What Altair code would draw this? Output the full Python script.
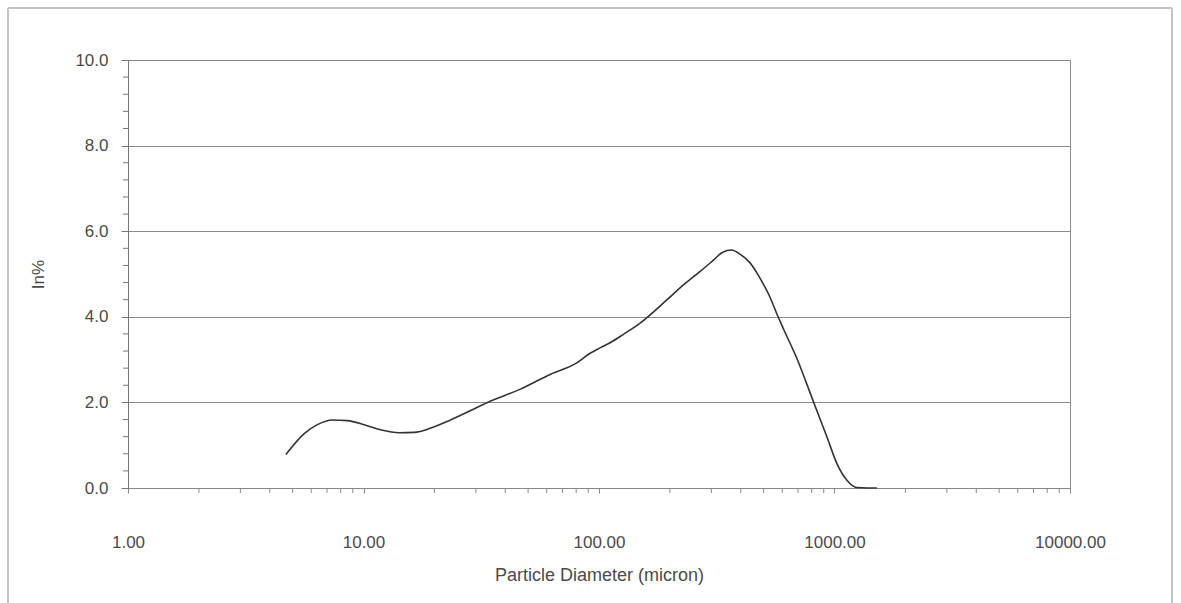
import altair as alt
import pandas as pd

# Particle size distribution (volume %, "In%") against particle diameter in microns
diameter_um = [4.68, 5.6, 6.37, 7.38, 8.55, 10.06, 11.8, 14.2, 16.4, 19.3, 23.4, 28.5,
               33.6, 46.4, 62.3, 80.8, 90.6, 101.5, 112, 127, 150, 194.6, 229, 269,
               307, 335, 365, 398, 438, 469, 500, 534, 570, 608, 693, 816, 929, 1024,
               1129, 1245, 1380, 1514]
in_pct = [0.78, 1.27, 1.48, 1.59, 1.575, 1.48, 1.36, 1.29, 1.30, 1.40, 1.59, 1.81,
          2.0, 2.31, 2.66, 2.93, 3.13, 3.28, 3.40, 3.59, 3.86, 4.40, 4.75, 5.06,
          5.33, 5.51, 5.56, 5.46, 5.26, 5.02, 4.75, 4.44, 4.06, 3.71, 3.02, 2.0, 1.19,
          0.57, 0.18, 0.01, 0.0, 0.0]

x_major = [1, 10, 100, 1000, 10000]
x_minor = [m * d for d in [1, 10, 100, 1000] for m in range(2, 10)]
y_major = [0, 2, 4, 6, 8, 10]
y_minor = [v / 10 for v in range(4, 100, 4) if v % 20 != 0]

W, H = 942, 428
TEXT = "#4a4a4a"
FONT = "Liberation Sans"

curve = pd.DataFrame({"d": diameter_um, "p": in_pct})

x_scale = alt.Scale(type="log", domain=[1, 10000], nice=False)
y_scale = alt.Scale(domain=[0, 10], nice=False, zero=True)

line = alt.Chart(curve).mark_line(
    color="#333333", strokeWidth=1.6, interpolate="monotone", clip=False
).encode(
    x=alt.X("d:Q", scale=x_scale, axis=alt.Axis(
        values=x_major, format=".2f", grid=False, title="Particle Diameter (micron)",
        tickSize=5, tickColor="#888", domainColor="#888", labelPadding=41,
        labelFlush=False, labelFontSize=17, labelColor=TEXT, labelFont=FONT,
        titleFontSize=18, titleFontWeight="normal", titleColor=TEXT, titleFont=FONT,
        titleY=87, titleBaseline="middle")),
    y=alt.Y("p:Q", scale=y_scale, axis=alt.Axis(
        values=y_major, format=".1f", grid=True, gridColor="#8a8a8a", gridWidth=1,
        title="In%", tickSize=7, tickColor="#777", domainColor="#777",
        labelPadding=13, labelFontSize=17, labelColor=TEXT, labelFont=FONT,
        titleFontSize=17, titleFontWeight="normal", titleColor=TEXT, titleFont=FONT,
        titleX=-90, titleY=214, titleBaseline="middle", titleAngle=270)),
)

# minor ticks along the log axis
x_ticks = alt.Chart(pd.DataFrame({"v": x_minor})).mark_rule(
    color="#888", strokeWidth=1
).encode(
    x=alt.X("v:Q", scale=x_scale), y=alt.value(H), y2=alt.value(H + 5)
)

# minor ticks along the percentage axis
y_ticks = alt.Chart(pd.DataFrame({"v": y_minor})).mark_rule(
    color="#777", strokeWidth=1
).encode(
    y=alt.Y("v:Q", scale=y_scale), x=alt.value(-5), x2=alt.value(0)
)

# outer frame around the figure
one = pd.DataFrame({"k": [0]})
frame_style = dict(color="#c4c4c4", strokeWidth=2)
frame_left = alt.Chart(one).mark_rule(**frame_style).encode(
    x=alt.value(-120), y=alt.value(-52), y2=alt.value(545))
frame_top = alt.Chart(one).mark_rule(**frame_style).encode(
    x=alt.value(-120), x2=alt.value(1044), y=alt.value(-52))
frame_right = alt.Chart(one).mark_rule(**frame_style).encode(
    x=alt.value(1044), y=alt.value(-52), y2=alt.value(545))

chart = alt.layer(
    frame_left, frame_top, frame_right, x_ticks, y_ticks, line
).properties(
    width=W, height=H,
    autosize=alt.AutoSizeParams(type="none"),
    padding={"left": 128, "top": 60, "right": 111, "bottom": 115},
    background="white",
).configure_view(stroke="#8a8a8a", strokeWidth=1)

chart.save("out.html", embed_options={"renderer": "svg", "actions": False})
